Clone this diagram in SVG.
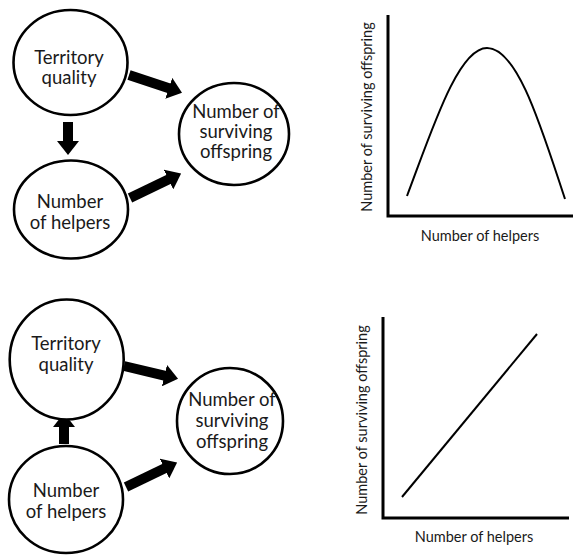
<svg xmlns="http://www.w3.org/2000/svg" width="573" height="556" viewBox="0 0 573 556">
<style>
.node ellipse{fill:#fff;stroke:#000;stroke-width:2.6}
.node text{font-family:Lato,"Open Sans",sans-serif;font-size:18.5px;fill:#1a1a1a;text-anchor:middle}
.conn line{stroke:#000;stroke-width:10;marker-end:url(#ah)}
.axis{stroke:#000;stroke-width:3;fill:none}
.data{stroke:#000;stroke-width:2;fill:none}
.lbl{font-family:Lato,"Open Sans",sans-serif;font-size:14.5px;fill:#1a1a1a;text-anchor:middle}
</style>
<defs>
<marker id="ah" viewBox="0 0 14 22" refX="1" refY="11" markerWidth="1.4" markerHeight="2.2" orient="auto" markerUnits="strokeWidth">
<path d="M0,0 L14,11 L0,22 z" fill="#000"/>
</marker>
</defs>
<rect width="573" height="556" fill="#fff"/>

<g id="top-connectors" class="conn">
<line x1="129" y1="75" x2="169.7" y2="88.6"/>
<line x1="130" y1="198" x2="169.4" y2="179.1"/>
<line x1="68" y1="122" x2="68" y2="142"/>
</g>
<g id="top-territory" class="node">
<ellipse cx="70.5" cy="62.5" rx="57" ry="52.5"/>
<text x="69" y="64">Territory</text>
<text x="69" y="84">quality</text>
</g>
<g id="top-helpers" class="node">
<ellipse cx="71" cy="209.5" rx="57" ry="49"/>
<text x="70" y="208">Number</text>
<text x="70" y="229">of helpers</text>
</g>
<g id="top-offspring" class="node">
<ellipse cx="234" cy="134" rx="55" ry="51"/>
<text x="236" y="118">Number of</text>
<text x="236" y="138">surviving</text>
<text x="236" y="158">offspring</text>
</g>

<g id="top-chart">
<path class="axis" d="M388,15 V216 H573"/>
<path class="data" d="M407,196 C432,130 458,48 487,48 C518,48 542,130 565,199"/>
<text class="lbl" transform="translate(372,117) rotate(-90)">Number of surviving offspring</text>
<text class="lbl" x="480" y="241">Number of helpers</text>
</g>

<g id="bottom-connectors" class="conn">
<line x1="124" y1="366" x2="165.4" y2="375.8"/>
<line x1="126" y1="487" x2="165.4" y2="468.1"/>
<line x1="64" y1="444" x2="64" y2="426"/>
</g>
<g id="bottom-territory" class="node">
<ellipse cx="66.7" cy="359.5" rx="57" ry="60"/>
<text x="66" y="350">Territory</text>
<text x="66" y="371">quality</text>
</g>
<g id="bottom-helpers" class="node">
<ellipse cx="66" cy="499.5" rx="57" ry="53.5"/>
<text x="66" y="497">Number</text>
<text x="66" y="518">of helpers</text>
</g>
<g id="bottom-offspring" class="node">
<ellipse cx="230" cy="421" rx="53" ry="53"/>
<text x="232" y="406">Number of</text>
<text x="232" y="427">surviving</text>
<text x="232" y="448">offspring</text>
</g>

<g id="bottom-chart">
<path class="axis" d="M383,317 V518 H569"/>
<path class="data" d="M402,497 L537,334"/>
<text class="lbl" transform="translate(367,420) rotate(-90)">Number of surviving offspring</text>
<text class="lbl" x="474" y="542">Number of helpers</text>
</g>
</svg>
